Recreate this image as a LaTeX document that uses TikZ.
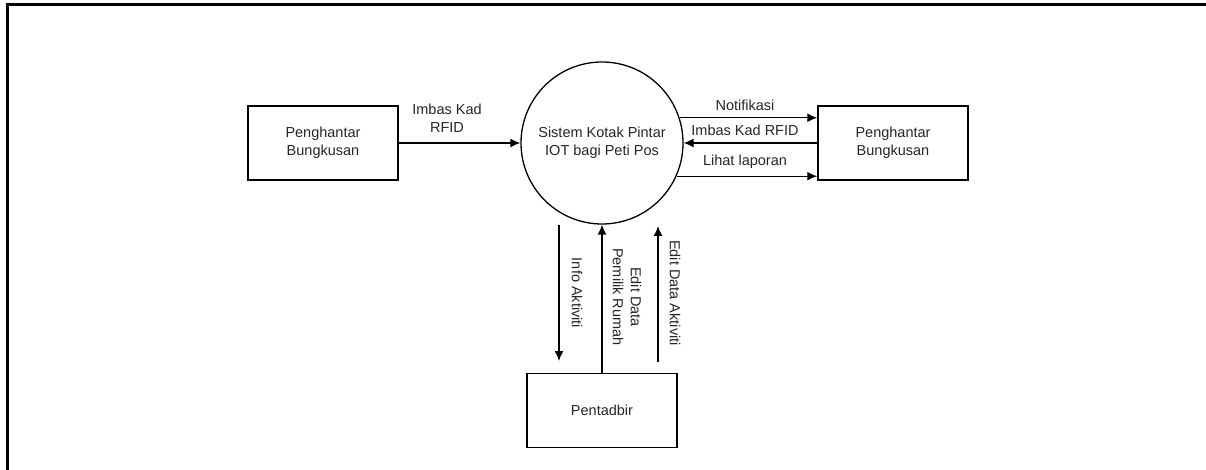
\documentclass[tikz,border=0pt]{standalone}
\usepackage{fontspec}
\setmainfont{Liberation Sans}
\usetikzlibrary{arrows.meta,calc}
\begin{document}
\begin{tikzpicture}[x=1pt,y=-1pt,
  every node/.style={font=\fontsize{14.5}{18}\selectfont, text=black!85},
  entity/.style={draw, line width=1.5pt, minimum width=150pt, minimum height=74pt, align=center, inner sep=0pt},
  proc/.style={draw, line width=1.3pt, circle, minimum size=162pt, align=center, inner sep=0pt},
  flow/.style={line width=1.4pt, -{Latex[length=10pt,width=9pt]}},
  lbl/.style={align=center, inner sep=0pt}]
\useasboundingbox (0,0) rectangle (1206,470);
\draw[line width=2.6pt] (7.5,471) -- (7.5,4.5) -- (1207,4.5);

\node[entity] (lbox) at (323,143) {Penghantar\\Bungkusan};
\node[entity] (rbox) at (893,143) {Penghantar\\Bungkusan};
\node[proc] (circ) at (602,143) {Sistem Kotak Pintar\\IOT bagi Peti Pos};
\node[entity] (pent) at (602,410.5) {Pentadbir};

% left
\draw[flow] (lbox.east) -- (circ.west);
\node[lbl] (l1) at (447,118) {Imbas Kad\\RFID};

% right
\draw[flow] (circ.18) -- (rbox.west |- circ.18);
\draw[flow] (rbox.west |- circ.east) -- (circ.east);
\draw[flow] (circ.-24) -- (rbox.west |- circ.-24);
\node[lbl] (r1) at (745,105) {Notifikasi};
\node[lbl] (r2) at (745,130) {Imbas Kad RFID};
\node[lbl] (r3) at (745,162) {Lihat laporan};

% bottom
\coordinate (ia1) at (559,225);
\coordinate (ia2) at (559,361);
\draw[flow] (ia1) -- (ia2);
\node[lbl, rotate=-90] (b1) at (577,293) {Info Aktiviti};

\draw[flow] (pent.north) -- (circ.south);
\node[lbl, rotate=-90] (b2) at (627,297) {Edit Data\\Pemilik Rumah};

\coordinate (ed1) at (658,362);
\coordinate (ed2) at (658,226);
\draw[flow] (ed1) -- (ed2);
\node[lbl, rotate=-90] (b3) at (675,293) {Edit Data Aktiviti};
\end{tikzpicture}
\end{document}
